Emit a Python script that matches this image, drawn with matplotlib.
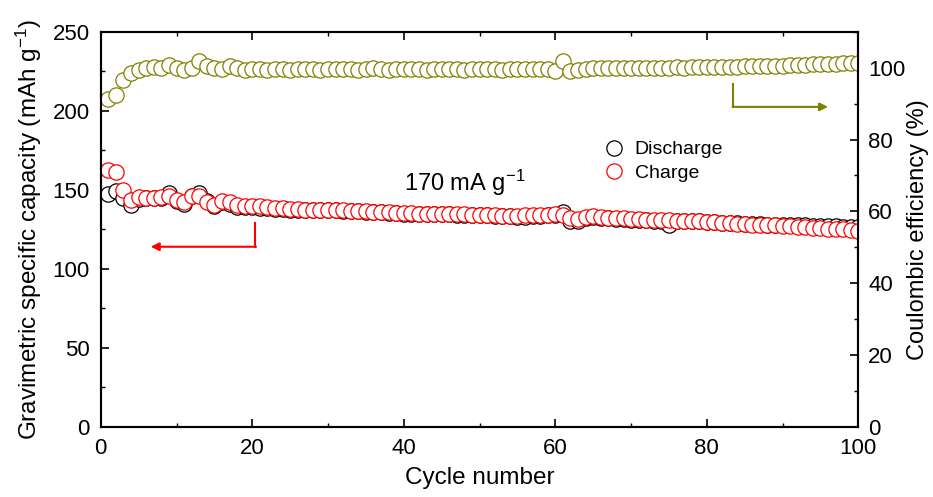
import matplotlib
matplotlib.use("Agg")
import matplotlib.pyplot as plt
from matplotlib.ticker import MultipleLocator

plt.rcParams['font.family'] = ['Liberation Sans', 'DejaVu Sans']
plt.rcParams['mathtext.fontset'] = 'custom'
plt.rcParams['mathtext.rm'] = 'Liberation Sans'
plt.rcParams['mathtext.it'] = 'Liberation Sans'

cycles = list(range(1, 101))
discharge = [147.5, 149, 145, 140.5, 144, 145, 145, 145, 148, 143,
             141, 146, 148, 143, 140, 142.5, 141, 139, 139, 139,
             138.5, 138.5, 138, 138, 137.5, 137.5, 137.5, 137, 137, 137,
             137, 136.5, 136.5, 136.5, 136, 136, 136, 135.5, 135.5, 135,
             135, 135, 135, 134.5, 134.5, 134.5, 134, 134, 134, 134,
             134, 133.5, 133.5, 133.5, 133, 133, 133.5, 133.5, 134, 134,
             136, 130, 130.5, 132, 133, 132.5, 132, 131.5, 131.5, 131,
             131, 131, 130.5, 130.5, 128, 130.5, 130, 130, 130, 129.5,
             129.5, 129, 129, 129, 128.5, 128.5, 128.5, 128, 128, 128,
             127.5, 127.5, 127.5, 127, 127, 127, 127, 126.5, 126.5, 126.5]
charge = [162.5, 161.5, 150, 143.5, 145.5, 145, 145, 145.5, 146, 143.5,
          142, 146, 146, 142, 140.5, 143, 142, 140.5, 140, 140,
          139.5, 139, 138.5, 138.5, 138, 138, 137.5, 137.5, 137.5, 137,
          137, 137, 136.5, 136.5, 136.5, 136, 136, 136, 135.5, 135.5,
          135.5, 135, 135, 135, 134.5, 134.5, 134.5, 134.5, 134, 134,
          134, 134, 133.5, 133.5, 133.5, 134, 134, 134, 134, 134.5,
          134, 132, 131.5, 133, 133.5, 133, 132.5, 132, 132, 131.5,
          131.5, 131, 131, 131, 131, 130.5, 130.5, 130, 130, 129.5,
          129.5, 129, 129, 128.5, 128.5, 128, 128, 127.5, 127.5, 127,
          127, 126.5, 126.5, 126, 126, 125.5, 125, 125, 124.5, 124]
efficiency = [91.4, 92.5, 96.5, 98.5, 99.5, 100.0, 100.3, 100.0, 100.8, 100.0,
              99.5, 100.0, 101.8, 100.5, 100.0, 99.7, 100.5, 99.8, 99.5, 99.6,
              99.6, 99.5, 99.6, 99.7, 99.5, 99.6, 99.7, 99.6, 99.5, 99.6,
              99.6, 99.7, 99.6, 99.5, 99.7, 99.8, 99.6, 99.5, 99.6, 99.7,
              99.6, 99.6, 99.5, 99.6, 99.7, 99.6, 99.6, 99.5, 99.6, 99.7,
              99.6, 99.6, 99.5, 99.6, 99.6, 99.7, 99.6, 99.6, 99.7, 99.0,
              101.8, 99.2, 99.5, 99.7, 99.8, 99.8, 99.9, 99.9, 99.8, 99.9,
              100.0, 99.9, 100.0, 100.0, 100.0, 100.1, 100.0, 100.1, 100.1, 100.2,
              100.2, 100.3, 100.3, 100.3, 100.4, 100.4, 100.5, 100.5, 100.6, 100.6,
              100.7, 100.8, 100.8, 100.9, 101.0, 101.0, 101.1, 101.2, 101.2, 101.3]

olive = '#808000'

fig = plt.figure(figsize=(9.33, 4.97), dpi=100)
ax = fig.add_axes([0.108, 0.141, 0.812, 0.795])
ax2 = ax.twinx()

ms = 11
ax.plot(cycles, discharge, 'o', ms=ms, mfc='white', mec='black', mew=0.9,
        label='Discharge', zorder=3)
ax.plot(cycles, charge, 'o', ms=ms, mfc='white', mec='red', mew=0.9,
        label='Charge', zorder=4)
ax2.plot(cycles, efficiency, 'o', ms=ms, mfc='white', mec=olive, mew=0.9)

ax.set_xlim(0, 100)
ax.set_ylim(0, 250)
ax2.set_ylim(0, 110)

ax.xaxis.set_major_locator(MultipleLocator(20))
ax.xaxis.set_minor_locator(MultipleLocator(10))
ax.yaxis.set_major_locator(MultipleLocator(50))
ax.yaxis.set_minor_locator(MultipleLocator(25))
ax2.yaxis.set_major_locator(MultipleLocator(20))
ax2.yaxis.set_minor_locator(MultipleLocator(10))

fs_tick = 16
fs_lab = 17.5
ax.tick_params(axis='both', which='major', direction='in', length=6, width=1.2,
               labelsize=fs_tick, top=True, pad=8)
ax.tick_params(axis='both', which='minor', direction='in', length=3, width=1.0,
               top=True)
ax.tick_params(axis='y', right=False, which='both')
ax2.tick_params(axis='y', which='major', direction='in', length=6, width=1.2,
                labelsize=fs_tick, pad=7)
ax2.tick_params(axis='y', which='minor', direction='in', length=3, width=1.0)
for a in (ax, ax2):
    for s in a.spines.values():
        s.set_linewidth(1.5)

ax.set_xlabel('Cycle number', fontsize=fs_lab, labelpad=6)
ax.set_ylabel('Gravimetric specific capacity (mAh g$^{-1}$)', fontsize=fs_lab, labelpad=6)
ax2.set_ylabel('Coulombic efficiency (%)', fontsize=17, labelpad=1)

ax.legend(loc='center left', bbox_to_anchor=(0.652, 0.672), frameon=False,
          fontsize=14, handletextpad=0.45, labelspacing=0.3, borderaxespad=0,
          handlelength=1.2)

ax.text(0.40, 0.618, '170 mA g$^{-1}$', transform=ax.transAxes, fontsize=17,
        va='center', ha='left')

# red arrow (capacity -> left axis)
ax.plot([20.4, 20.4], [129, 114], color='red', lw=1.5)
ax.annotate('', xy=(6.6, 114), xytext=(20.5, 114),
            arrowprops=dict(arrowstyle='-|>', color='red', lw=1.5,
                            mutation_scale=12, shrinkA=0, shrinkB=0))
# olive arrow (efficiency -> right axis)
ax2.plot([83.5, 83.5], [95.5, 89.1], color=olive, lw=1.5)
ax2.annotate('', xy=(96.0, 89.1), xytext=(83.4, 89.1),
             arrowprops=dict(arrowstyle='-|>', color=olive, lw=1.5,
                             mutation_scale=12, shrinkA=0, shrinkB=0))

fig.savefig('out.png', dpi=100)
